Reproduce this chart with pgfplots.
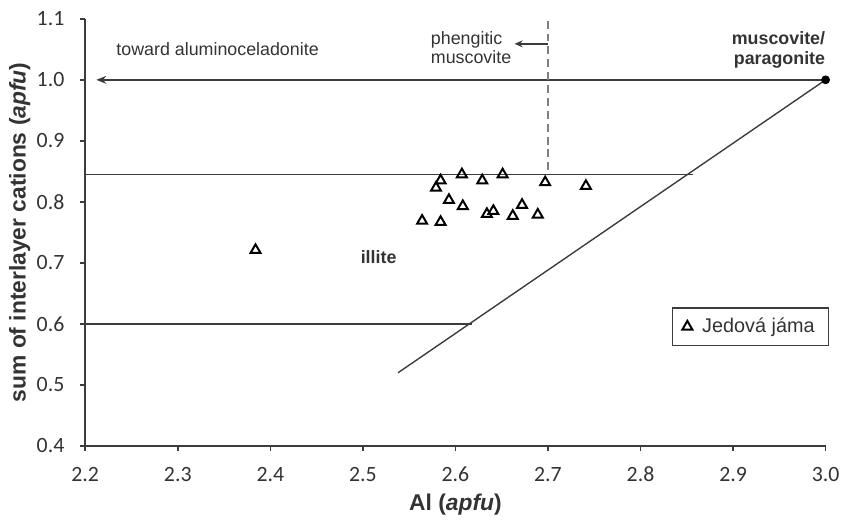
\documentclass[border=0pt]{standalone}
\usepackage{pgfplots}
\pgfplotsset{compat=1.18}
\usepackage{fontspec}
\setmainfont{Liberation Sans}
\newfontfamily\tickfont{Carlito}
\usetikzlibrary{arrows.meta}
\definecolor{txt}{HTML}{333333}
\definecolor{ln}{HTML}{3C3C3C}

\begin{document}
\begin{tikzpicture}
\begin{axis}[
  scale only axis, width=373.5pt, height=215.5pt,
  xmin=2.2, xmax=3.0, ymin=0.4, ymax=1.1,
  xtick={2.2,2.3,2.4,2.5,2.6,2.7,2.8,2.9,3.0},
  ytick={0.4,0.5,0.6,0.7,0.8,0.9,1.0,1.1},
  /pgf/number format/.cd, fixed, fixed zerofill, precision=1, assume math mode=true,
  /pgfplots/.cd,
  axis lines*=left,
  axis line style={ln, line width=0.8pt},
  tick align=outside, major tick length=2.5pt,
  tick style={ln, line width=0.8pt},
  ticklabel style={font=\tickfont\fontsize{11}{13}\selectfont, color=txt},
  xticklabel style={anchor=base, yshift=-15.5pt},
  yticklabel style={anchor=east, xshift=-4.5pt},
  xlabel={\textbf{Al (\textit{apfu})}},
  ylabel={\textbf{sum of interlayer cations (\textit{apfu})}},
  label style={font=\fontsize{11.5}{13}\selectfont, color=txt},
  xlabel style={at={(rel axis cs:0.5,0)}, anchor=center, yshift=-29.5pt},
  ylabel style={at={(rel axis cs:0,0.5)}, anchor=center, yshift=33pt},
  clip=false,
  legend style={at={(rel axis cs:1.005,0.325)}, anchor=north east, draw=ln, line width=0.8pt,
    font=\fontsize{10}{12}\selectfont, text=txt, inner xsep=5pt, inner ysep=3pt, column sep=3pt},
  legend cell align=left,
]
% boundary lines
\addplot[ln, line width=0.7pt, forget plot] coordinates {(2.2,0.845) (2.857,0.845)};
\addplot[ln, line width=0.7pt, forget plot] coordinates {(2.2,0.6) (2.618,0.6)};
\addplot[ln, line width=0.7pt, forget plot] coordinates {(2.538,0.52) (3.0,1.0)};
\addplot[ln, line width=0.7pt, -{Stealth[length=5pt,width=4pt]}, forget plot] coordinates {(3.0,1.0) (2.212,1.0)};
\addplot[gray, line width=0.7pt, dash pattern=on 4pt off 2.5pt, forget plot] coordinates {(2.7,1.097) (2.7,0.845)};
\addplot[ln, line width=0.7pt, -{Stealth[length=4pt,width=3.5pt]}, forget plot] coordinates {(2.7,1.059) (2.664,1.059)};
\addplot[only marks, mark=*, mark size=2pt, black, forget plot] coordinates {(3.0,1.0)};
% samples
\addplot[only marks, mark=triangle, mark size=2.9pt, mark options={line width=1pt, draw=black}] coordinates {
(2.384,0.721) (2.564,0.769) (2.579,0.823) (2.584,0.835) (2.584,0.767)
(2.593,0.803) (2.607,0.845) (2.608,0.793) (2.629,0.835) (2.634,0.780)
(2.641,0.785) (2.651,0.845) (2.662,0.777) (2.672,0.795) (2.689,0.779)
(2.697,0.832) (2.741,0.826)};
\addlegendentry{Jedová jáma}
% annotations
\node[font=\fontsize{9}{11}\selectfont, text=txt] at (axis cs:2.343,1.051) {toward aluminoceladonite};
\node[font=\fontsize{9}{9.5}\selectfont, text=txt, anchor=west, align=left] at (axis cs:2.566,1.053) {phengitic\\muscovite};
\node[font=\bfseries\fontsize{9}{10}\selectfont, text=txt, anchor=east, align=right] at (axis cs:3.007,1.049) {muscovite/\\paragonite};
\node[font=\bfseries\fontsize{9}{11}\selectfont, text=txt] at (axis cs:2.517,0.71) {illite};
\end{axis}
\path (current axis.south west) ++(-43pt,-34.5pt) (current axis.north east) ++(6.5pt,9.5pt);
\end{tikzpicture}
\end{document}
